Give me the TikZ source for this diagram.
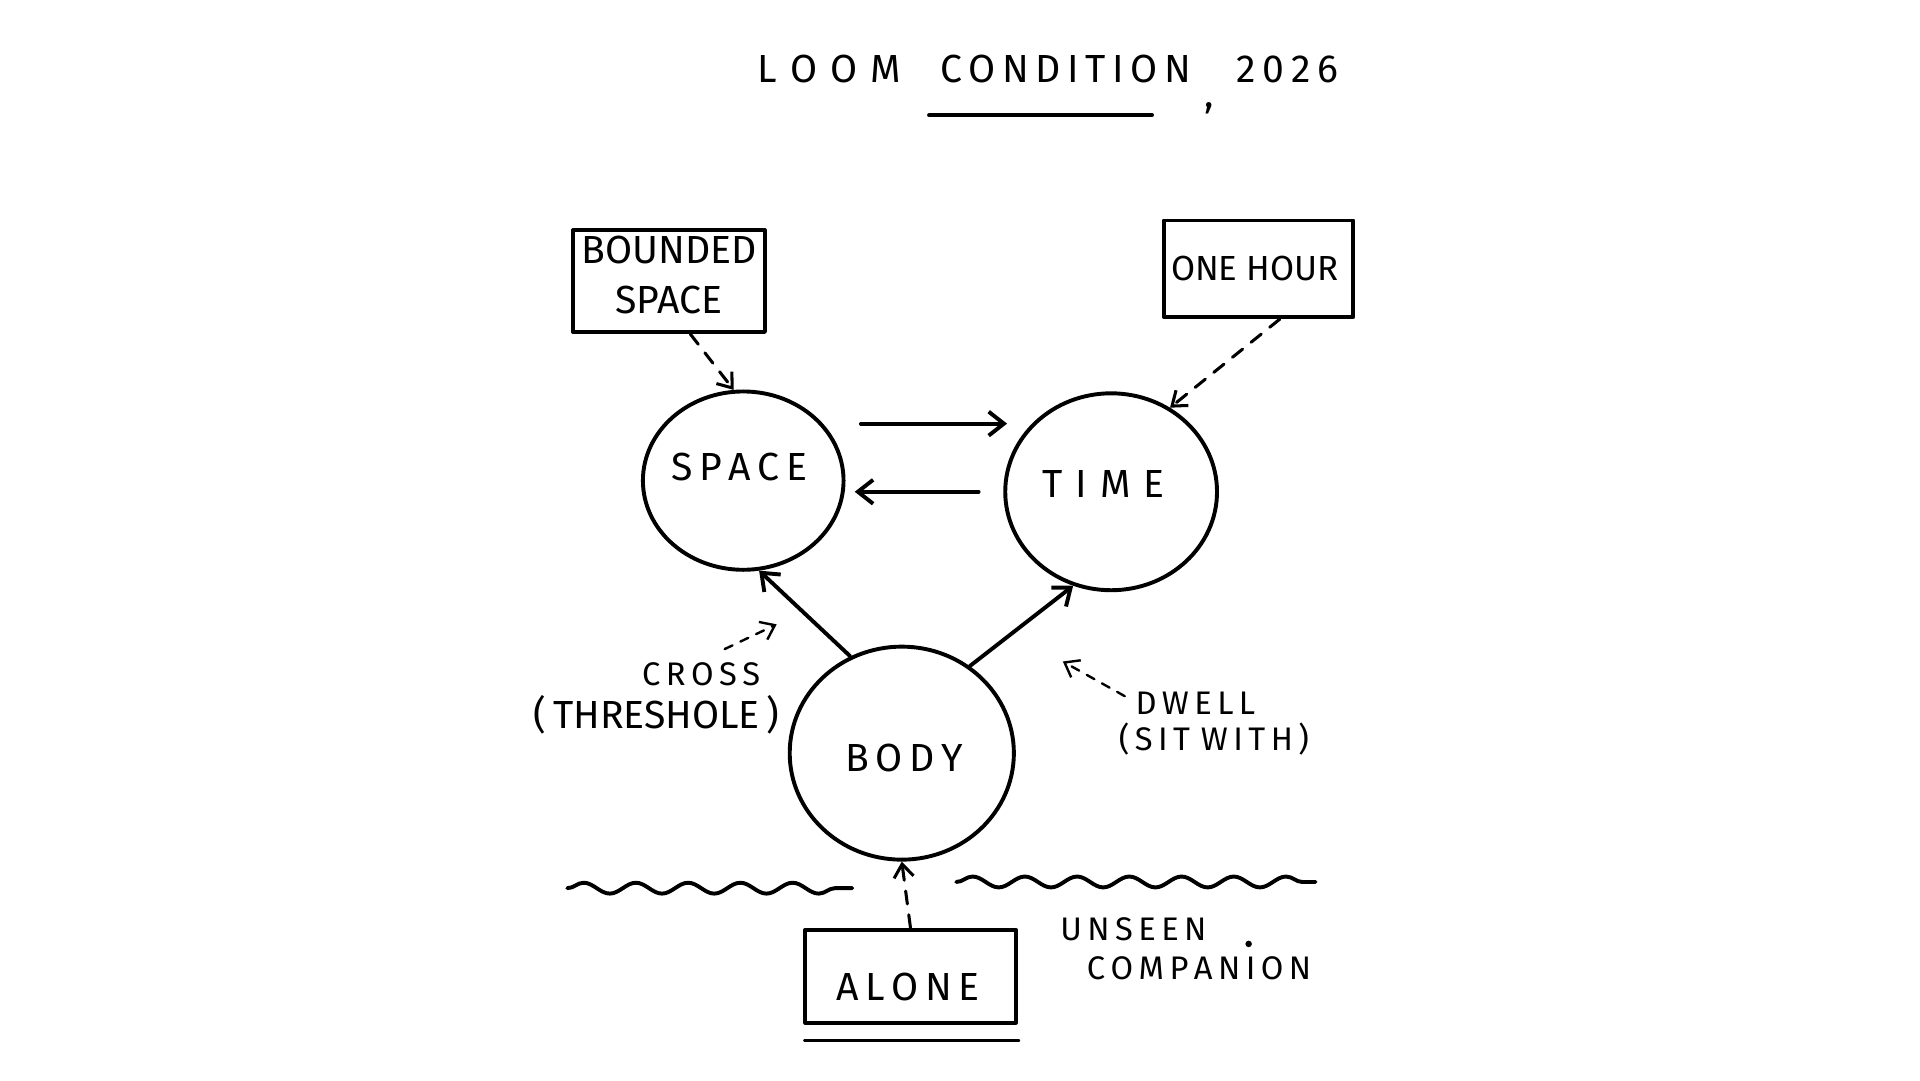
\documentclass[tikz,border=0pt]{standalone}
\usepackage{fontspec}
\setmainfont{Fira Sans}
\usetikzlibrary{shapes.geometric,arrows.meta,decorations.pathmorphing}
\begin{document}
\begin{tikzpicture}[x=0.02cm,y=-0.02cm,
  ink/.style={line width=1.8pt,line cap=round,line join=round},
  circ/.style={ellipse,draw,ink,inner sep=0pt},
  lbl/.style={font=\fontsize{18}{23}\selectfont,align=center},
  small/.style={font=\fontsize{15}{19}\selectfont,align=center},
  arr/.style={ink,-{Straight Barb[length=7pt,width=11pt]}},
  darr/.style={ink,line width=1.4pt,dash pattern=on 6pt off 5pt,-{Straight Barb[length=6pt,width=9pt]}},
  wave/.style={ink,decorate,decoration={snake,amplitude=2.5,segment length=24}}]
\fill[white] (0,0) rectangle (1550,872);
\useasboundingbox (0,0) rectangle (1550,872);
% title
\node[lbl] (title) at (846,68) {L\,\,O\,\,O\,\,M\quad C\,O\,N\,D\,I\,T\,I\,O\,N\,\,\raisebox{-1.2ex}{,}\,\, 2\,0\,2\,6};
\coordinate (ul1) at (750,93); \coordinate (ul2) at (930,93);
\draw[ink] (ul1) -- (ul2);
% boxes
\node[draw,ink,minimum width=3.1cm,minimum height=1.64cm] (bs) at (540,227) {};
\node[lbl] (bst) at (540,222) {BOUNDED\\SPACE};
\node[draw,ink,minimum width=3.06cm,minimum height=1.56cm] (oh) at (1016,217) {};
\node[lbl,font=\fontsize{16}{20}\selectfont] (oht) at (1013,217) {ONE HOUR};
\node[draw,ink,minimum width=3.4cm,minimum height=1.5cm] (al) at (735,788) {};
\node[lbl] (alt) at (733,797) {A\,L\,O\,N\,E};
\coordinate (bl1) at (650,840); \coordinate (bl2) at (822,840);
\draw[ink] (bl1) -- (bl2);
% circles
\node[circ,minimum width=3.24cm,minimum height=2.88cm] (space) at (600,388) {};
\node[lbl] at (597,377) {S\,P\,A\,C\,E};
\node[circ,minimum width=3.42cm,minimum height=3.18cm] (time) at (897,397) {};
\node[lbl] at (891,391) {T\,\,I\,\,M\,\,E};
\node[circ,minimum width=3.62cm,minimum height=3.44cm] (body) at (728,608) {};
\node[lbl] at (730,612) {B\,O\,D\,Y};
% connectors
\coordinate (s1) at (695,342); \coordinate (t1) at (813,342);
\coordinate (t2) at (790,397); \coordinate (s2) at (690,397);
\draw[arr] (s1) -- (t1);
\draw[arr] (t2) -- (s2);
\draw[arr] (body.118) -- (space.-80);
\draw[arr] (body.52) -- (time.-112);
\draw[darr] (bs.-68) -- (space.96);
\draw[darr] (oh.-67) -- (time.55);
\draw[darr] (al.north) -- (body.south);
% labels
\node[small] (cross) at (566,544) {C\,R\,O\,S\,S};
\node[lbl] (thr) at (530,577) {(\,THRESHOLE\,)};
\coordinate (c1) at (585,524); \coordinate (c2) at (627,504);
\draw[darr,line width=1.1pt,dash pattern=on 4pt off 4pt] (c1) -- (c2);
\node[small] (dwell) at (965,568) {D\,W\,E\,L\,L};
\node[small] (sit) at (980,597) {(\,S\,I\,T\,\,W\,I\,T\,H\,)};
\coordinate (d1) at (908,562); \coordinate (d2) at (858,534);
\draw[darr,line width=1.1pt,dash pattern=on 4pt off 4pt] (d1) -- (d2);
\node[small] (un) at (915,750) {U\,N\,S\,E\,E\,N};
\node[small] (co) at (968,782) {C\,O\,M\,P\,A\,N\,I\,O\,N};
\fill (1008,762) circle (1.5pt);
% waves
\coordinate (w1) at (458,717); \coordinate (w2) at (688,717);
\coordinate (w3) at (772,712); \coordinate (w4) at (1062,712);
\draw[wave] (w1) -- (w2);
\draw[wave] (w3) -- (w4);
\end{tikzpicture}
\end{document}
